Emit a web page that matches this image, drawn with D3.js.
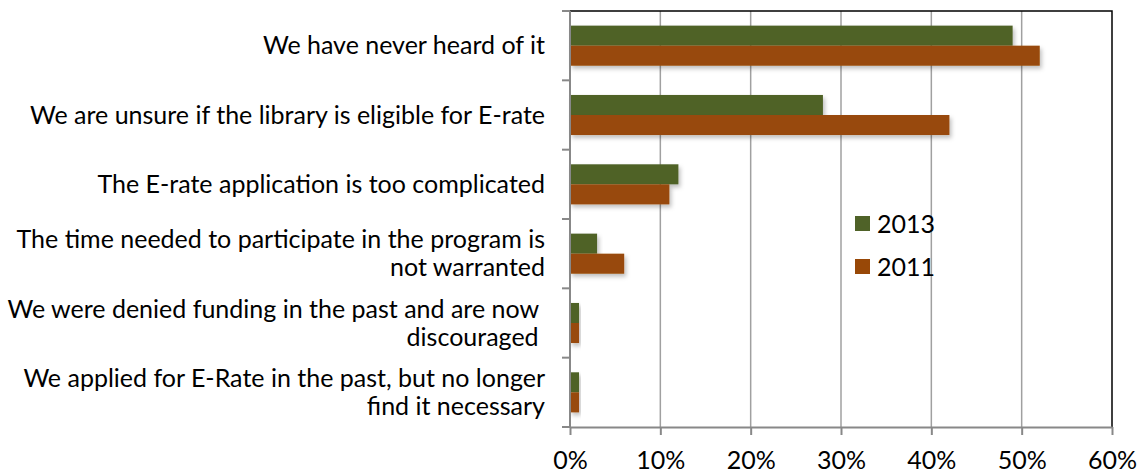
<!DOCTYPE html>
<html>
<head>
<meta charset="utf-8">
<script src="https://cdn.jsdelivr.net/npm/d3@7"></script>
<style>
    body { margin: 0; background: #fff; }
    svg { display: block; font-family: Lato, 'Open Sans', sans-serif; }
    tspan { white-space: pre; }
</style>
</head>
<body>
<svg width="1141" height="474"></svg>
<script>
const categories = [
    ['We have never heard of it'],
    ['We are unsure if the library is eligible for E-rate'],
    ['The E-rate application is too complicated'],
    ['The time needed to participate in the program is', 'not warranted'],
    ['We were denied funding in the past and are now ', 'discouraged '],
    ['We applied for E-Rate in the past, but no longer', 'find it necessary']
];
const seriesNames = ['2013', '2011'];
const values2013 = [0.49, 0.28, 0.12, 0.03, 0.01, 0.01];
const values2011 = [0.52, 0.42, 0.11, 0.06, 0.01, 0.01];
const xTicks = [0, 0.1, 0.2, 0.3, 0.4, 0.5, 0.6];

const colors = { '2013': '#4f6228', '2011': '#984807' };
const size = { w: 1141, h: 474 };
const margin = { top: 11, right: 29, bottom: 47, left: 570 };
const fontSize = 25;

const svg = d3.select('svg');
const keys = categories.map((c, i) => 'c' + i);

const x = d3.scaleLinear()
    .domain([0, 0.6])
    .range([margin.left, size.w - margin.right]);
const y = d3.scaleBand()
    .domain(keys)
    .range([margin.top, size.h - margin.bottom]);
const ySub = d3.scaleBand()
    .domain(seriesNames)
    .range([0, y.bandwidth()])
    .paddingOuter(0.73);

// Drop shadow for bars
const defs = svg.append('defs');
defs.append('filter')
    .attr('id', 'shadow')
    .attr('x', '-10%').attr('y', '-20%')
    .attr('width', '130%').attr('height', '160%')
    .append('feDropShadow')
    .attr('dx', 2).attr('dy', 3)
    .attr('stdDeviation', 2)
    .attr('flood-color', '#000')
    .attr('flood-opacity', 0.25);

// Vertical grid
svg.append('g')
    .selectAll('line')
    .data(xTicks.slice(1, -1))
    .enter()
    .append('line')
    .attr('x1', (d) => x(d)).attr('x2', (d) => x(d))
    .attr('y1', y.range()[0]).attr('y2', y.range()[1])
    .attr('stroke', '#a0a0a0')
    .attr('stroke-width', 1.5);

// Plot area border (top, right)
svg.append('path')
    .attr('d', 'M' + x(0) + ',' + y.range()[0] + 'H' + x(0.6) + 'V' + y.range()[1])
    .attr('fill', 'none')
    .attr('stroke', '#000')
    .attr('stroke-width', 1.5);

// Bars
const data = keys.map((k, i) => ({ key: k, '2013': values2013[i], '2011': values2011[i] }));
const groups = svg.append('g')
    .selectAll('g')
    .data(data)
    .enter()
    .append('g')
    .attr('transform', (d) => 'translate(0,' + y(d.key) + ')');
groups.selectAll('rect')
    .data((d) => seriesNames.map((s) => ({ s: s, v: d[s] })))
    .enter()
    .append('rect')
    .attr('x', x(0))
    .attr('y', (d) => ySub(d.s))
    .attr('width', (d) => x(d.v) - x(0))
    .attr('height', ySub.bandwidth())
    .attr('fill', (d) => colors[d.s])
    .attr('filter', 'url(#shadow)');

// X axis
const xAxis = svg.append('g')
    .attr('transform', 'translate(0,' + y.range()[1] + ')')
    .call(d3.axisBottom(x)
        .tickValues(xTicks)
        .tickFormat(d3.format('.0%'))
        .tickSize(8)
        .tickSizeOuter(0)
        .tickPadding(16));
xAxis.select('.domain').attr('stroke', '#888').attr('stroke-width', 2);
xAxis.selectAll('.tick line').attr('stroke', '#888').attr('stroke-width', 2);
xAxis.selectAll('.tick text')
    .attr('fill', '#000')
    .attr('font-size', fontSize)
    .attr('font-family', 'Lato, sans-serif');

// Y axis line with ticks on category boundaries
const bounds = keys.map((k) => y(k)).concat([y.range()[1]]);
const yAxis = svg.append('g');
yAxis.append('line')
    .attr('x1', x(0)).attr('x2', x(0))
    .attr('y1', y.range()[0]).attr('y2', y.range()[1])
    .attr('stroke', '#888').attr('stroke-width', 2);
yAxis.selectAll('.ytick')
    .data(bounds)
    .enter()
    .append('line')
    .attr('class', 'ytick')
    .attr('x1', x(0) - 8).attr('x2', x(0))
    .attr('y1', (d) => d).attr('y2', (d) => d)
    .attr('stroke', '#888').attr('stroke-width', 2);

// Category labels
const lineH = 28;
const labels = svg.append('g')
    .attr('font-size', fontSize)
    .attr('text-anchor', 'end')
    .attr('fill', '#000')
    .selectAll('text')
    .data(categories)
    .enter()
    .append('text')
    .attr('transform', (d, i) => 'translate(' + (x(0) - 25) + ',' + (y(keys[i]) + y.bandwidth() / 2) + ')');
labels.selectAll('tspan')
    .data((d) => d.map((t, j) => ({ t: t, dy: (j - (d.length - 1) / 2) * lineH })))
    .enter()
    .append('tspan')
    .attr('x', 0)
    .attr('y', (d) => d.dy)
    .attr('dy', '0.35em')
    .text((d) => d.t);

// Legend
const legend = svg.append('g')
    .attr('transform', 'translate(855,216)')
    .selectAll('g')
    .data(seriesNames)
    .enter()
    .append('g')
    .attr('transform', (d, i) => 'translate(0,' + i * 43 + ')');
legend.append('rect')
    .attr('width', 15).attr('height', 15)
    .attr('fill', (d) => colors[d]);
legend.append('text')
    .attr('x', 22).attr('y', 8)
    .attr('dy', '0.35em')
    .attr('font-size', fontSize)
    .text((d) => d);
</script>
</body>
</html>
